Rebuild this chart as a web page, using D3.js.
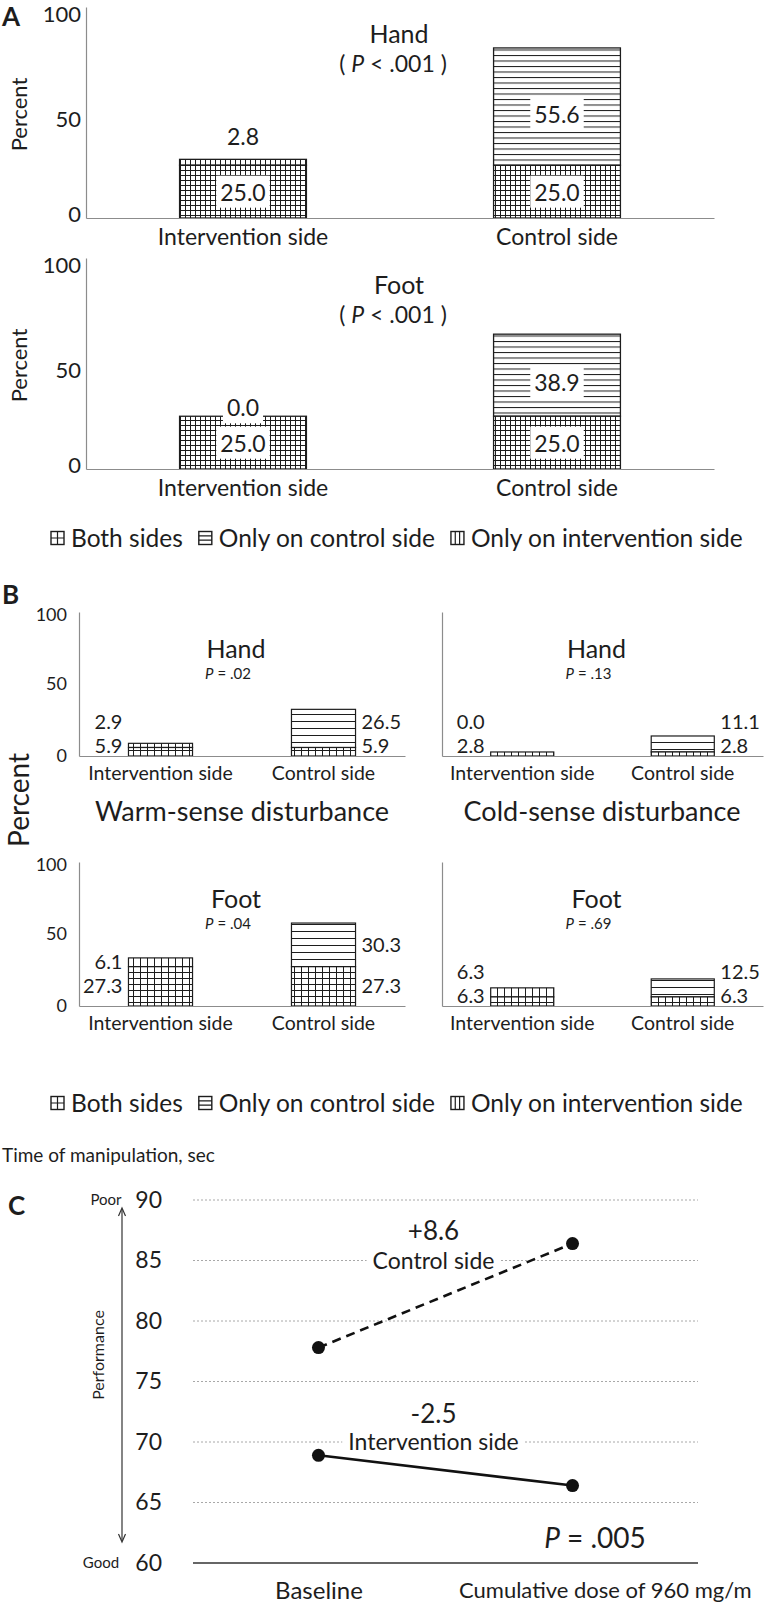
<!DOCTYPE html>
<html><head><meta charset="utf-8">
<script src="https://cdn.jsdelivr.net/npm/d3@7"></script>
<style>
body{margin:0;background:#fff}
svg{display:block}
text{font-family:Lato,"Open Sans",sans-serif;fill:#1d1d1d}
</style>
</head><body>
<svg id="c" width="765" height="1604"></svg>
<script>
// ---------------- DATA ----------------
const sides = ["Intervention side", "Control side"];
const legendKeys = ["Both sides", "Only on control side", "Only on intervention side"];

// Panel A (percent)
const aHandBoth = [25.0, 25.0];
const aHandOnly = [2.8, 55.6];   // intervention: only on intervention side; control: only on control side
const aFootBoth = [25.0, 25.0];
const aFootOnly = [0.0, 38.9];
const aTitles = ["Hand", "Foot"];
const aP = ["< .001", "< .001"];
const aTicks = [0, 50, 100];

// Panel B (percent)
const bWarmHandBoth = [5.9, 5.9],  bWarmHandOnly = [2.9, 26.5];
const bColdHandBoth = [2.8, 2.8],  bColdHandOnly = [0.0, 11.1];
const bWarmFootBoth = [27.3, 27.3], bWarmFootOnly = [6.1, 30.3];
const bColdFootBoth = [6.3, 6.3],  bColdFootOnly = [6.3, 12.5];
const bP = [".02", ".13", ".04", ".69"];
const bSense = ["Warm-sense disturbance", "Cold-sense disturbance"];

// Panel C (time of manipulation, sec)
const cTimepoints = ["Baseline", "Cumulative dose of 960 mg/m"];
const cControl = [77.8, 86.4];
const cIntervention = [68.9, 66.4];
const cTicks = [60, 65, 70, 75, 80, 85, 90];
const cP = ".005";

// ---------------- SETUP ----------------
const svg = d3.select("#c");
const defs = svg.append("defs");
const INK = "#1d1d1d";
const AXIS = "#8c8c8c";

function pat(id, w, h, d) {
  const p = defs.append("pattern").attr("id", id).attr("patternUnits", "userSpaceOnUse")
    .attr("width", w).attr("height", h);
  p.append("rect").attr("width", w).attr("height", h).attr("fill", "#fff");
  p.append("path").attr("d", d).attr("stroke", INK).attr("stroke-width", 1).attr("fill", "none");
}
pat("gridA", 5, 5, "M0,0.5H5M0.5,0V5");
pat("hA", 6, 5.5, "M0,0.5H6");
pat("vA", 5, 6, "M0.5,0V6");
pat("gridB", 7, 6, "M0,0.5H7M0.5,0V6");
pat("hB", 6, 7, "M0,0.5H6");
pat("vB", 7, 6, "M0.5,0V6");

function panelLetter(t, x, y) {
  svg.append("text").attr("x", x).attr("y", y).attr("font-family", "Liberation Sans, Arial, sans-serif")
    .attr("font-weight", "bold").attr("font-size", 26).text(t);
}

function pText(sel, prefix, rel, value, suffix) {
  sel.append("tspan").text(prefix);
  sel.append("tspan").attr("font-style", "italic").text("P");
  sel.append("tspan").text(" " + rel + " " + value + suffix);
}

// ---------------- PANEL A ----------------
function drawA(top, bottom, both, only, title, p) {
  const g = svg.append("g");
  const x = d3.scaleBand().domain(sides).range([86, 714]).paddingInner(0.596).paddingOuter(0.298);
  const y = d3.scaleLinear().domain([0, 100]).range([bottom, top]);

  const ya = g.append("g").attr("transform", "translate(86,0)")
    .call(d3.axisLeft(y).tickValues(aTicks).tickSize(0).tickSizeOuter(0).tickPadding(5));
  ya.select(".domain").attr("stroke", AXIS).attr("stroke-width", 1.2);
  ya.selectAll("text").attr("font-size", 22).attr("fill", INK).attr("font-family", "Lato")
    .attr("y", d => d === 100 ? 7 : d === 50 ? 7 : -4);

  g.append("text").attr("transform", `translate(27,${(top + bottom) / 2 + 2}) rotate(-90)`)
    .attr("text-anchor", "middle").attr("font-size", 22).text("Percent");

  sides.forEach((s, i) => {
    const x0 = x(s), w = x.bandwidth();
    const onlyFill = i === 0 ? "url(#vA)" : "url(#hA)";
    if (only[i] > 0) {
      g.append("rect").attr("x", x0).attr("y", y(both[i] + only[i])).attr("width", w)
        .attr("height", y(both[i]) - y(both[i] + only[i])).attr("fill", onlyFill)
        .attr("stroke", INK).attr("stroke-width", 1.3);
    }
    g.append("rect").attr("x", x0).attr("y", y(both[i])).attr("width", w)
      .attr("height", y(0) - y(both[i])).attr("fill", "url(#gridA)")
      .attr("stroke", INK).attr("stroke-width", 1.3);

    const cx = x0 + w / 2;
    const labels = [];
    labels.push({ v: both[i], y: (y(0) + y(both[i])) / 2 + 1, box: true });
    const segH = y(both[i]) - y(both[i] + only[i]);
    const topY = y(both[i] + only[i]);
    labels.push(segH > 20
      ? { v: only[i], y: (y(both[i]) + topY) / 2 + 8, box: true }
      : { v: only[i], y: topY - (segH > 0 ? 22 : 8), box: segH === 0 });
    labels.forEach(l => {
      const t = g.append("text").attr("x", cx).attr("y", l.y).attr("dy", "0.35em")
        .attr("text-anchor", "middle").attr("font-size", 23).text(d3.format(".1f")(l.v));
      if (l.box) {
        const bb = t.node().getBBox();
        g.insert("rect", () => t.node()).attr("x", bb.x - 4).attr("y", bb.y - 2)
          .attr("width", bb.width + 8).attr("height", bb.height + 4).attr("fill", "#fff");
      }
    });
  });

  const xa = g.append("g").attr("transform", `translate(0,${bottom})`)
    .call(d3.axisBottom(x).tickSize(0).tickSizeOuter(0).tickPadding(11));
  xa.select(".domain").attr("stroke", AXIS).attr("stroke-width", 1.2);
  xa.selectAll("text").attr("font-size", 23).attr("fill", INK).attr("font-family", "Lato");

  g.append("text").attr("x", 399).attr("y", top + 27).attr("dy", "0.35em").attr("text-anchor", "middle")
    .attr("font-size", 25).text(title);
  const pt = g.append("text").attr("x", 393).attr("y", top + 57).attr("dy", "0.35em")
    .attr("text-anchor", "middle").attr("font-size", 23);
  pText(pt, "( ", p.split(" ")[0], p.split(" ")[1], " )");
}

// ---------------- LEGEND ----------------
function legend(yc, size) {
  const g = svg.append("g");
  let xpos = 51;
  legendKeys.forEach((k, i) => {
    const s = 13;
    const ig = g.append("g").attr("transform", `translate(${xpos},${yc - s / 2})`);
    ig.append("rect").attr("width", s).attr("height", s).attr("fill", "#fff").attr("stroke", INK).attr("stroke-width", 1.4);
    if (i === 0) ig.append("path").attr("d", `M0,${s / 2}H${s}M${s / 2},0V${s}`).attr("stroke", INK).attr("stroke-width", 1.2);
    if (i === 1) ig.append("path").attr("d", `M0,${s / 3}H${s}M0,${2 * s / 3}H${s}`).attr("stroke", INK).attr("stroke-width", 1.2);
    if (i === 2) ig.append("path").attr("d", `M${s / 3},0V${s}M${2 * s / 3},0V${s}`).attr("stroke", INK).attr("stroke-width", 1.2);
    const t = g.append("text").attr("x", xpos + s + 7).attr("y", yc).attr("dy", "0.35em")
      .attr("font-size", size).text(k);
    xpos += s + 7 + t.node().getComputedTextLength() + 16;
  });
}

// ---------------- PANEL B ----------------
function drawB(x0, x1, top, bottom, both, only, title, p, showTicks) {
  const g = svg.append("g");
  const x = d3.scaleBand().domain(sides).range([x0, x1]).paddingInner(0.607).paddingOuter(0.3035);
  const y = d3.scaleLinear().domain([0, 100]).range([bottom, top]);

  const ya = g.append("g").attr("transform", `translate(${x0},0)`)
    .call(d3.axisLeft(y).tickValues(aTicks).tickSize(0).tickSizeOuter(0).tickPadding(12));
  ya.select(".domain").attr("stroke", AXIS).attr("stroke-width", 1.2);
  ya.selectAll("text").attr("font-size", 18).attr("fill", INK).attr("font-family", "Lato")
    .attr("y", d => d === 100 ? 3 : 0)
    .style("display", showTicks ? null : "none");

  sides.forEach((s, i) => {
    const bx = x(s), w = x.bandwidth();
    const onlyFill = i === 0 ? "url(#vB)" : "url(#hB)";
    if (only[i] > 0) {
      g.append("rect").attr("x", bx).attr("y", y(both[i] + only[i])).attr("width", w)
        .attr("height", y(both[i]) - y(both[i] + only[i])).attr("fill", onlyFill)
        .attr("stroke", INK).attr("stroke-width", 1.2);
    }
    g.append("rect").attr("x", bx).attr("y", y(both[i])).attr("width", w)
      .attr("height", y(0) - y(both[i])).attr("fill", "url(#gridB)")
      .attr("stroke", INK).attr("stroke-width", 1.2);

    const yb = Math.min((y(0) + y(both[i])) / 2, bottom - 10);
    const yt = Math.min((y(both[i]) + y(both[i] + only[i])) / 2, yb - 24);
    const lx = i === 0 ? bx - 6 : bx + w + 6;
    const anchor = i === 0 ? "end" : "start";
    [[both[i], yb], [only[i], yt]].forEach(([v, yy]) => {
      g.append("text").attr("x", lx).attr("y", yy).attr("dy", "0.35em").attr("text-anchor", anchor)
        .attr("font-size", 20).text(d3.format(".1f")(v));
    });
  });

  const xa = g.append("g").attr("transform", `translate(0,${bottom})`)
    .call(d3.axisBottom(x).tickSize(0).tickSizeOuter(0).tickPadding(10));
  xa.select(".domain").attr("stroke", AXIS).attr("stroke-width", 1.2);
  xa.selectAll("text").attr("font-size", 19.5).attr("fill", INK).attr("font-family", "Lato");

  const cx = (x0 + x1) / 2 - 6;
  g.append("text").attr("x", cx).attr("y", top + 37).attr("dy", "0.35em").attr("text-anchor", "middle")
    .attr("font-size", 25).text(title);
  const pt = g.append("text").attr("x", cx - 8).attr("y", top + 62).attr("dy", "0.35em")
    .attr("text-anchor", "middle").attr("font-size", 15);
  pText(pt, "", "=", p, "");
}

// ---------------- DRAW A ----------------
panelLetter("A", 2, 26);
drawA(7, 218, aHandBoth, aHandOnly, aTitles[0], aP[0]);
drawA(258, 469, aFootBoth, aFootOnly, aTitles[1], aP[1]);
legend(538, 24.5);

// ---------------- DRAW B ----------------
panelLetter("B", 2, 604);
drawB(79, 405, 612, 756, bWarmHandBoth, bWarmHandOnly, aTitles[0], bP[0], true);
drawB(442, 763, 612, 756, bColdHandBoth, bColdHandOnly, aTitles[0], bP[1], false);
drawB(79, 405, 862, 1006, bWarmFootBoth, bWarmFootOnly, aTitles[1], bP[2], true);
drawB(442, 763, 862, 1006, bColdFootBoth, bColdFootOnly, aTitles[1], bP[3], false);
svg.append("text").attr("x", 242).attr("y", 812).attr("dy", "0.35em").attr("text-anchor", "middle")
  .attr("font-size", 27).text(bSense[0]);
svg.append("text").attr("x", 602).attr("y", 812).attr("dy", "0.35em").attr("text-anchor", "middle")
  .attr("font-size", 27).text(bSense[1]);
svg.append("text").attr("transform", "translate(29,800) rotate(-90)").attr("text-anchor", "middle")
  .attr("font-size", 28).text("Percent");
legend(1103, 24.5);

// ---------------- PANEL C ----------------
(function () {
  const g = svg.append("g");
  svg.append("text").attr("x", 2).attr("y", 1155).attr("dy", "0.35em").attr("font-size", 19)
    .text("Time of manipulation, sec");
  panelLetter("C", 8, 1215);
  const x = d3.scalePoint().domain(cTimepoints).range([193, 698]).padding(0.494);
  const y = d3.scaleLinear().domain([60, 90]).range([1563, 1200]);

  g.selectAll("line.grid").data(cTicks.filter(t => t > 60)).join("line").attr("class", "grid")
    .attr("x1", 193).attr("x2", 698).attr("y1", d => y(d)).attr("y2", d => y(d))
    .attr("stroke", "#a8a8a8").attr("stroke-width", 1).attr("stroke-dasharray", "2,2");
  g.append("line").attr("x1", 193).attr("x2", 698).attr("y1", y(60)).attr("y2", y(60))
    .attr("stroke", "#333").attr("stroke-width", 1.3);

  const ya = g.append("g").attr("transform", "translate(193,0)")
    .call(d3.axisLeft(y).tickValues(cTicks).tickSize(0).tickPadding(31));
  ya.select(".domain").remove();
  ya.selectAll("text").attr("font-size", 23).attr("fill", INK).attr("font-family", "Lato");

  const xa = g.append("g").attr("transform", `translate(0,${y(60)})`)
    .call(d3.axisBottom(x).tickSize(0).tickPadding(19));
  xa.select(".domain").remove();
  xa.selectAll("text").attr("font-size", (d, i) => i === 1 ? 22 : 24).attr("fill", INK).attr("font-family", "Lato")
    .attr("text-anchor", (d, i) => i === 1 ? "start" : "middle")
    .attr("x", (d, i) => i === 1 ? -114 : 0);

  const fmt = d3.formatLocale({ decimal: ".", thousands: ",", grouping: [3], currency: ["", ""], minus: "-" }).format("+.1f");
  const mid = (x(cTimepoints[0]) + x(cTimepoints[1])) / 2;
  function tag(txt, yy, size, box) {
    const t = g.append("text").attr("x", mid - 12).attr("y", yy).attr("dy", "0.35em")
      .attr("text-anchor", "middle").attr("font-size", size).text(txt);
    if (box) {
      const bb = t.node().getBBox();
      g.insert("rect", () => t.node()).attr("x", bb.x - 6).attr("y", bb.y + 3).attr("width", bb.width + 12)
        .attr("height", bb.height - 6).attr("fill", "#fff");
    }
  }
  tag(fmt(cControl[1] - cControl[0]), y(85) - 30, 26, false);
  tag("Control side", y(85), 23, true);
  tag(fmt(cIntervention[1] - cIntervention[0]), y(70) - 28, 26, false);
  tag("Intervention side", y(70), 23, true);

  const line = d3.line().x((d, i) => x(cTimepoints[i])).y(d => y(d));
  g.append("path").datum(cControl).attr("d", line).attr("fill", "none").attr("stroke", "#111")
    .attr("stroke-width", 2.6).attr("stroke-dasharray", "9,6");
  g.append("path").datum(cIntervention).attr("d", line).attr("fill", "none").attr("stroke", "#111")
    .attr("stroke-width", 2.6);
  [cControl, cIntervention].forEach(s => {
    g.selectAll(null).data(s).join("circle").attr("cx", (d, i) => x(cTimepoints[i])).attr("cy", d => y(d))
      .attr("r", 6.5).attr("fill", "#111");
  });

  const pt = g.append("text").attr("x", 595).attr("y", 1538).attr("dy", "0.35em")
    .attr("text-anchor", "middle").attr("font-size", 28);
  pText(pt, "", "=", cP, "");

  g.append("text").attr("x", 106).attr("y", y(90)).attr("dy", "0.35em").attr("text-anchor", "middle")
    .attr("font-size", 15).text("Poor");
  g.append("text").attr("x", 101).attr("y", y(60)).attr("dy", "0.35em").attr("text-anchor", "middle")
    .attr("font-size", 15).text("Good");
  g.append("line").attr("x1", 122).attr("x2", 122).attr("y1", 1209).attr("y2", 1541)
    .attr("stroke", "#333").attr("stroke-width", 1.2);
  g.append("path").attr("d", "M118.5,1216L122,1208L125.5,1216M118.5,1534L122,1542L125.5,1534")
    .attr("fill", "none").attr("stroke", "#333").attr("stroke-width", 1.2);
  g.append("text").attr("transform", "translate(104,1355) rotate(-90)").attr("text-anchor", "middle")
    .attr("font-size", 16).text("Performance");
})();
</script>
</body></html>
